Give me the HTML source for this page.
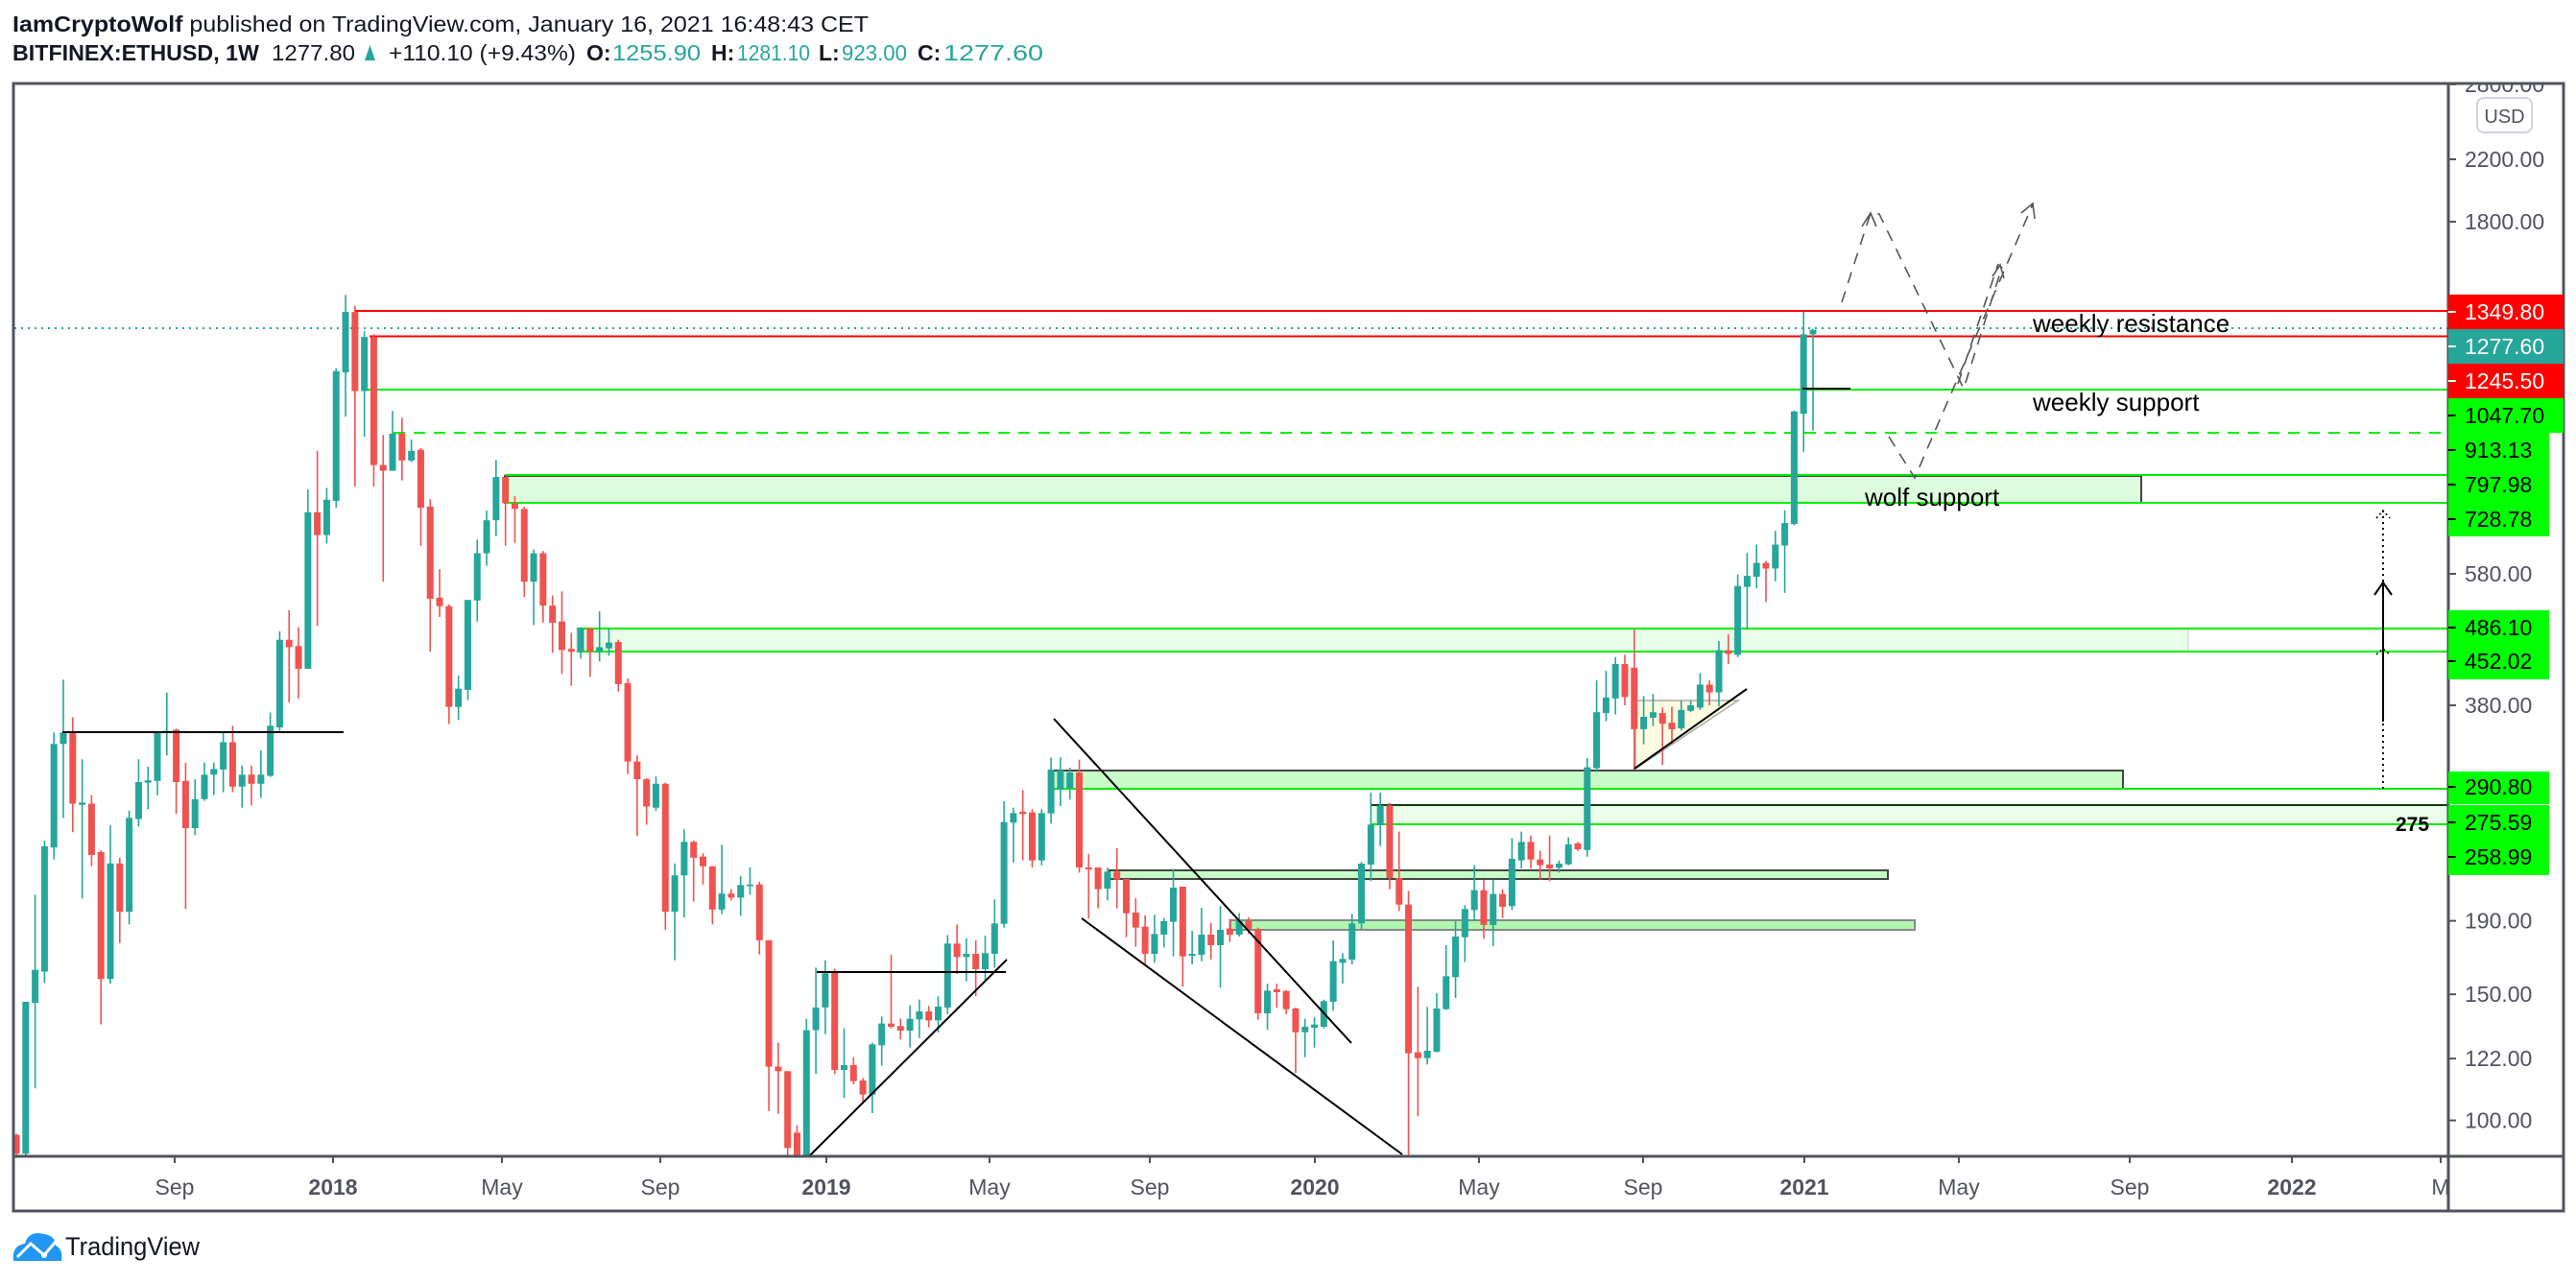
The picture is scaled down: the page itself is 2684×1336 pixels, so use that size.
<!DOCTYPE html>
<html><head><meta charset="utf-8"><style>
html,body{margin:0;padding:0;background:#fff;}
svg{display:block;font-family:"Liberation Sans",sans-serif;}
</style></head><body>
<svg id="s" xmlns="http://www.w3.org/2000/svg" width="2684" height="1336" viewBox="0 0 2684 1336">
<defs><clipPath id="cp"><rect x="15" y="88" width="2535" height="1116"/></clipPath>
<clipPath id="ap"><rect x="2552" y="88" width="119" height="1116"/></clipPath></defs>
<rect width="2684" height="1336" fill="#fff"/>
<!-- header -->
<text x="13" y="33" font-size="23" fill="#131722" textLength="892" lengthAdjust="spacingAndGlyphs"><tspan font-weight="bold">IamCryptoWolf</tspan> published on TradingView.com, January 16, 2021 16:48:43 CET</text>
<g font-size="23" fill="#131722">
<text x="13" y="63" font-weight="bold" textLength="257" lengthAdjust="spacingAndGlyphs">BITFINEX:ETHUSD, 1W</text>
<text x="283" y="63" textLength="87" lengthAdjust="spacingAndGlyphs">1277.80</text>
<polygon points="380,63 391,63 385.5,47" fill="#26a69a"/>
<text x="405" y="63" textLength="195" lengthAdjust="spacingAndGlyphs">+110.10 (+9.43%)</text>
<text x="611" y="63" font-weight="bold">O:</text><text x="638" y="63" fill="#26a69a" textLength="92" lengthAdjust="spacingAndGlyphs">1255.90</text>
<text x="741" y="63" font-weight="bold">H:</text><text x="768" y="63" fill="#26a69a" textLength="76" lengthAdjust="spacingAndGlyphs">1281.10</text>
<text x="853" y="63" font-weight="bold">L:</text><text x="877" y="63" fill="#26a69a" textLength="68" lengthAdjust="spacingAndGlyphs">923.00</text>
<text x="956" y="63" font-weight="bold">C:</text><text x="983" y="63" fill="#26a69a" textLength="104" lengthAdjust="spacingAndGlyphs">1277.60</text>
</g>
<g clip-path="url(#cp)" id="chart">
<!-- bands -->
<rect x="1156" y="907" width="811" height="9" fill="#c8fcc8" stroke="#444" stroke-width="2"/>
<rect x="1282" y="959" width="713" height="10" fill="#b0f8b0" stroke="#888" stroke-width="2"/>
<rect x="526" y="496" width="1705" height="28" fill="#ddfcdd" stroke="#444" stroke-width="2"/>
<rect x="601" y="655" width="1679" height="24" fill="#eaffea" stroke="#ccc" stroke-width="1"/>
<rect x="1096" y="803" width="1116" height="19" fill="#c8fcc8" stroke="#444" stroke-width="2"/>
<rect x="1428" y="839" width="1130" height="20" fill="#eafeea"/>
<line x1="1428" y1="839" x2="2551" y2="839" stroke="#0a3d0a" stroke-width="2"/>
<polygon points="1704,730 1811,730 1704,801" fill="#fefbe0" stroke="#aaa" stroke-width="1.5"/>
<!-- level lines -->
<line x1="370" y1="324" x2="2551" y2="324" stroke="#ff0000" stroke-width="2"/>
<line x1="385" y1="350.5" x2="2551" y2="350.5" stroke="#ff0000" stroke-width="2"/>
<line x1="15" y1="342" x2="2551" y2="342" stroke="#26a69a" stroke-width="2" stroke-dasharray="2,5"/>
<line x1="383" y1="406" x2="2551" y2="406" stroke="#00ee00" stroke-width="2"/>
<line x1="410" y1="451" x2="2551" y2="451" stroke="#00ee00" stroke-width="2" stroke-dasharray="12,9"/>
<line x1="526" y1="495" x2="2551" y2="495" stroke="#00ee00" stroke-width="2"/>
<line x1="526" y1="524" x2="2551" y2="524" stroke="#00ee00" stroke-width="2"/>
<line x1="601" y1="655" x2="2551" y2="655" stroke="#00ee00" stroke-width="2"/>
<line x1="601" y1="679" x2="2551" y2="679" stroke="#00ee00" stroke-width="2"/>
<line x1="1096" y1="822" x2="2551" y2="822" stroke="#00ee00" stroke-width="2"/>
<line x1="1428" y1="859" x2="2551" y2="859" stroke="#00ee00" stroke-width="2"/>
<g id="candles"></g>
<!-- drawings -->
<g stroke="#000" stroke-width="2" fill="none">
<line x1="65" y1="763" x2="358" y2="763"/>
<line x1="851" y1="1013" x2="1048" y2="1013"/>
<line x1="844" y1="1204" x2="1049" y2="1000"/>
<line x1="1098" y1="749" x2="1408" y2="1087"/>
<line x1="1127" y1="957" x2="1461" y2="1203"/>
<line x1="1703" y1="801" x2="1820" y2="718"/>
<line x1="1878" y1="405" x2="1928" y2="405"/>
</g>
<g stroke="#555" stroke-width="1.6" fill="none" stroke-dasharray="12,9">
<polyline points="1919,315 1949,222 1958,223 2046,405 2086,278"/>
<polyline points="1968,455 1995,498 2118,213"/>
<polyline points="2040,400 2082,275"/>
</g>
<g stroke="#555" stroke-width="1.6" fill="none">
<polyline points="1940,236 1949,222 1955,236"/>
<polyline points="2076,288 2084,276 2088,290"/>
<polyline points="2106,222 2118,212 2120,228"/>
</g>
<!-- vertical arrow -->
<line x1="2483" y1="532" x2="2483" y2="824" stroke="#000" stroke-width="2" stroke-dasharray="2,4"/>
<line x1="2483" y1="608" x2="2483" y2="752" stroke="#000" stroke-width="2"/>
<polyline points="2474,620 2483,607 2492,620" stroke="#000" stroke-width="2" fill="none"/>
<polyline points="2476,540 2483,532 2490,540" stroke="#000" stroke-width="1.5" fill="none" stroke-dasharray="2,3"/>
<polyline points="2476,682 2483,676 2490,682" stroke="#000" stroke-width="1.5" fill="none" stroke-dasharray="2,3"/>
<!-- texts -->
<text x="2118" y="346" font-size="26" fill="#000">weekly resistance</text>
<text x="2118" y="428" font-size="26" fill="#000">weekly support</text>
<text x="1943" y="527" font-size="26" fill="#000">wolf support</text>
<text x="2496" y="866" font-size="21" font-weight="bold" fill="#000">275</text>
</g>
<!-- frame -->
<g stroke="#50535e" stroke-width="3" fill="none">
<rect x="14" y="87" width="2657" height="1175"/>
<line x1="2551" y1="87" x2="2551" y2="1262"/>
<line x1="14" y1="1205" x2="2671" y2="1205"/>
</g>
<!-- price axis -->
<g id="axis" font-size="23" fill="#50535e" clip-path="url(#ap)"></g>
<rect x="2581" y="102" width="57" height="36" rx="7" fill="#fff" stroke="#d1d4dc" stroke-width="2"/>
<text x="2609.5" y="128" font-size="20" fill="#50535e" text-anchor="middle">USD</text>
<!-- time axis -->
<g id="time" font-size="23" fill="#50535e" text-anchor="middle"></g>
<!-- logo -->
<g>
<path d="M14,1314 Q12,1298 26,1296 Q30,1282 46,1286 Q58,1288 58,1298 Q66,1302 64,1314 Z" fill="#2196f3"/>
<polyline points="18,1310 32,1296 46,1308 58,1294" stroke="#fff" stroke-width="3" fill="none"/>
<circle cx="46" cy="1308" r="3" fill="#fff"/>
<text x="68" y="1308" font-size="27" fill="#131722" textLength="140" lengthAdjust="spacingAndGlyphs">TradingView</text>
</g>
<script>
(function(){
var NS="http://www.w3.org/2000/svg";
function el(n,a,p){var e=document.createElementNS(NS,n);for(var k in a)e.setAttribute(k,a[k]);p.appendChild(e);return e;}
var Z4=[['r',1522,1555,1520,1560],['g',1288,1555,1288,1560],['g',1232,1290,1100,1440],['g',1015,1235,1005,1255],['g',835,1017,815,1038],['g',815,835,722,965],['r',815,940,788,990],['g',938,942,862,1107],['r',940,1030,925,1050],['r',1025,1248,1022,1328],['g',1045,1248,978,1256],['r',1045,1130,1035,1185],['g',965,1130,952,1152],['g',902,967,862,980],['g',899,903,875,950],['g',815,900,815,925],['g',812,816,745,855],['r',810,902,808,958],['r',900,983,868,1125],['g',932,983,897,995],['g',889,932,868,935],['g',879,889,868,925],['g',832,880,815,920],['r',832,910,803,920],['g',889,910,873,947],['r',889,905,873,943],['g',889,905,846,930],['g',803,891,780,893],['g',652,806,637,812],['r',652,665,600,762],['r',663,703,630,755],['g',428,703,388,703],['r',428,468,320,628],['g',406,468,385,483],['g',180,408,175,420],['g',76,182,46,260],['r',76,215,65,383],['g',120,215,110,295],['r',120,345,115,383],['r',345,355,292,550],['g',290,355,250,355],['r',290,337,262,372],['g',320,337,300,340],['r',318,420,315,487],['r',418,580,405,673],['r',578,593,528,612],['r',593,770,590,800],['g',738,770,715,793],['g',582,740,582,758],['g',500,583,476,620],['g',442,500,425,522],['g',366,442,336,470],['r',366,412,366,487],['r',412,422,400,482],['r',422,550,418,577],['g',500,550,493,626],['r',500,592,496,622],['r',592,622,574,675],['r',620,670,567,712],['r',668,673,640,733],['g',632,673,630,685],['r',632,673,632,717],['g',665,673,602,690],['g',657,667,632,680],['r',656,730,652,743],['r',728,866,720,888],['r',866,897,855,997],['r',897,945,895,977],['g',905,947,892,953],['r',905,1130,903,1162],['g',1066,1130,1045,1215],['g',1007,1066,985,1140],['r',1007,1035,1005,1112],['r',1033,1050,1027,1082],['r',1050,1126,1050,1152],['g',1098,1126,1012,1134],['r',1098,1105,1090,1110],['g',1083,1105,1067,1137],['g',1082,1085,1052,1100],['r',1082,1180,1077,1205],['r',1180,1402,1180,1480],['r',1402,1410,1360,1485],['r',1410,1545,1410,1568],['r',1518,1568,1505,1568],['g',1338,1568,1318,1568],['g',1298,1338,1228,1415],['g',1238,1298,1215,1345]];
var Z5=[['r',938,1245,928,1258],['g',1230,1245,1115,1333],['r',1230,1280,1205,1290],['r',1278,1322,1270,1350],['g',1165,1322,1160,1380],['g',1100,1168,1078,1232],['r',1100,1110,885,1115],['r',1108,1122,1085,1150],['g',1085,1122,1043,1175],['g',1062,1087,1025,1145],['r',1062,1090,1045,1112],['g',1047,1090,1015,1128],['g',850,1050,823,1070],['r',850,892,790,945],['g',882,892,833,968],['r',882,930,840,1015],['g',880,930,825,968],['g',787,882,712,925],['g',470,788,405,800],['g',442,472,425,597],['r',438,445,370,590],['r',440,590,430,612],['g',442,590,430,605],['g',306,443,268,475],['g',308,368,268,420],['g',315,365,300,400],['r',315,612,275,628],['r',612,618,570,772],['r',612,680,612,740],['g',625,678,612,715],['r',625,650,552,740],['r',648,755,648,830],['r',753,800,708,860],['r',797,882,762,920],['g',820,882,760,910],['g',780,822,770,862],['g',675,782,617,890],['r',672,890,672,985],['g',882,888,810,915],['g',822,885,738,905],['r',822,855,785,900],['g',807,855,733,988],['r',803,822,773,845],['g',780,822,755,828],['r',780,805,768,820],['r',805,1068,800,1088],['g',997,1068,975,1120],['r',993,1002,975,1050],['r',998,1055,995,1070],['r',1053,1127,1050,1255],['g',1110,1127,1085,1205],['g',1103,1113,1080,1175],['g',1030,1110,1025,1115],['g',905,1032,840,1060],['g',898,910,880,975],['g',787,900,757,915],['g',600,787,595,805],['g',478,603,378,655],['g',418,480,378,545],['r',418,645,410,680],['r',645,728,500,748],['r',728,1193,685,1510],['r',1190,1208,985,1390],['g',1185,1208,1048,1228],['g',1053,1188,1005,1190],['g',952,1055,855,1058],['g',828,955,780,1020],['g',742,830,730,908],['g',683,745,605,780],['r',683,792,650,835],['g',695,792,650,858],['r',695,735,680,770],['g',585,733,520,745],['g',532,590,500,615],['r',532,587,512,615],['r',587,605,560,650],['r',603,615,512,655],['g',600,613,590,628],['g',540,602,518,605],['r',537,555,532,560]];
var Z6=[['g',1295,1475,1275,1490],['g',1175,1297,1105,1305],['g',1143,1177,1085,1195],['g',1070,1145,1055,1180],['r',1070,1142,1050,1160],['r',1078,1212,995,1300],['g',1185,1212,1140,1245],['g',1175,1187,1135,1205],['r',1177,1200,1165,1290],['r',1198,1212,1163,1245],['g',1170,1210,1150,1215],['g',1160,1172,1150,1175],['g',1115,1165,1090,1170],['r',1115,1132,1105,1160],['g',1040,1132,1020,1162],['r',1040,1048,1005,1070],['g',900,1050,875,1055],['g',878,902,828,995],['g',850,880,810,905],['r',850,862,845,935],['g',810,862,780,890],['g',763,812,735,915],['g',520,765,518,768],['g',352,525,302,608],['g',342,352,340,562]];
var all=[];
Z4.forEach(function(c){all.push([c[0],280+c[1]/1.686,280+c[2]/1.686,280+c[3]/1.686,280+c[4]/1.686]);});
Z5.forEach(function(c){all.push([c[0],700+c[1]/3,700+c[2]/3,700+c[3]/3,700+c[4]/3]);});
Z6.forEach(function(c){all.push([c[0],180+c[1]/2.09,180+c[2]/2.09,180+c[3]/2.09,180+c[4]/2.09]);});
var g=document.getElementById('candles');var N=all.length;var sp=(1889-17)/(N-1);
all.forEach(function(c,i){var x=17+i*sp;var col=c[0]=='g'?'#26a69a':'#ef5350';
el('line',{x1:x,x2:x,y1:c[3],y2:c[4],stroke:col,'stroke-width':1.6},g);
var h=Math.max(1.5,c[2]-c[1]);el('rect',{x:x-3.5,y:c[1],width:7,height:h,fill:col},g);});
// price axis
var ax=document.getElementById('axis');
function Y(p){return 1167.6-(Math.log10(p)-2)*746.1;}
[2800,2200,1800,580,380,190,150,122,100].forEach(function(p){var y=Y(p);
el('line',{x1:2551,x2:2559,y1:y,y2:y,stroke:'#50535e','stroke-width':2},ax);
var t=el('text',{x:2568,y:y+8},ax);t.textContent=p.toFixed(2);});
var labs=[['1349.80',325,'#ff0000','#fff',2671],['1277.60',361,'#26a69a','#fff',2671],['1245.50',397,'#ff0000','#fff',2671],['1047.70',433,'#00ff00','#000',2671],['913.13',469,'#00ff00','#000',2656],['797.98',505,'#00ff00','#000',2656],['728.78',541,'#00ff00','#000',2656],['486.10',654,'#00ff00','#000',2656],['452.02',689,'#00ff00','#000',2656],['290.80',820,'#00ff00','#000',2656],['275.59',857,'#00ff00','#000',2656],['258.99',893,'#00ff00','#000',2656]];
var s=document.getElementById('s');
labs.forEach(function(l){var top=l[1]-18,bot=l[1]+18;
if(l[0]=='290.80')top=804; if(l[0]=='258.99')bot=912; if(l[0]=='452.02')bot=708;
el('rect',{x:2551,y:top,width:l[4]-2551,height:bot-top,fill:l[2]},s);
el('line',{x1:2551,x2:2559,y1:l[1],y2:l[1],stroke:l[3],'stroke-width':2},s);
var t=el('text',{x:2568,y:l[1]+8,'font-size':23,fill:l[3]},s);t.textContent=l[0];});
// time axis
var ta=document.getElementById('time');
[['Sep',182],['2018',347,1],['May',523],['Sep',688],['2019',861,1],['May',1031],['Sep',1198],['2020',1370,1],['May',1541],['Sep',1712],['2021',1880,1],['May',2041],['Sep',2219],['2022',2388,1],['M',2543]].forEach(function(l){
el('line',{x1:l[1],x2:l[1],y1:1205,y2:1212,stroke:'#50535e','stroke-width':2},ta);
var t=el('text',{x:l[1],y:1245},ta);if(l[2])t.setAttribute('font-weight','bold');t.textContent=l[0];});
})();
</script>
</svg>
</body></html>
